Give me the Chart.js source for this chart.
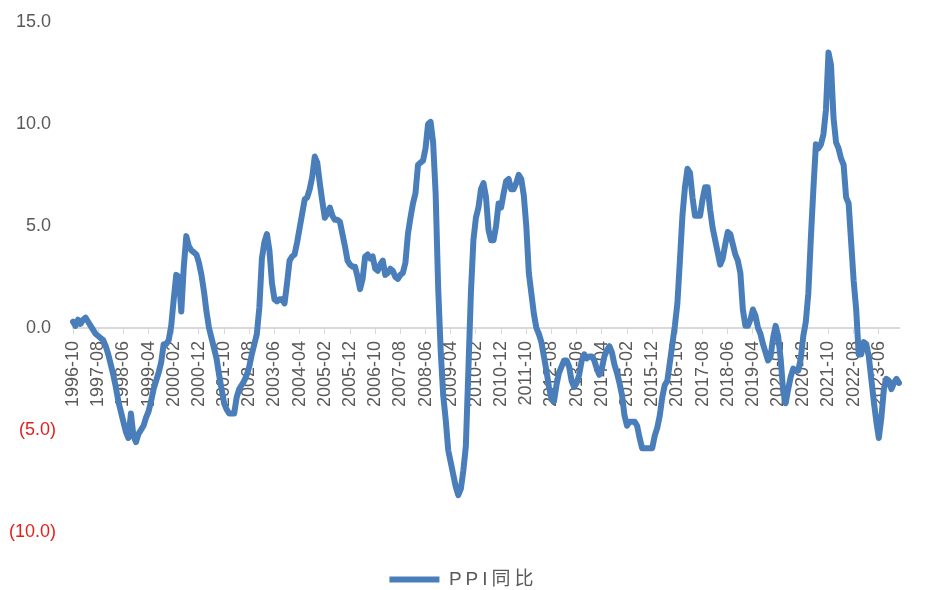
<!DOCTYPE html>
<html lang="zh">
<head>
    <meta charset="UTF-8">
    <title>PPI同比</title>
    <style>
        html, body {
            margin: 0;
            padding: 0;
            background: #fff;
        }
        #chart-container {
            width: 933px;
            height: 590px;
        }
    </style>
</head>
<body>
    <div id="chart-container">
        <canvas id="chart" width="933" height="590"></canvas>
    </div>

    <script src="https://cdn.jsdelivr.net/npm/chart.js"></script>
    <script>
        // monthly series starts 1996-10
        const startYear = 1996;
        const startMonth = 10;
        const seriesName = 'PPI同比';

        // PPI year-on-year, %, one row per calendar year
        const ppiYoY = [
            0.3, 0.1, 0.4,                                                  // 1996 Oct-Dec
            0.2, 0.4, 0.5, 0.3, 0.1, -0.1, -0.3, -0.4, -0.5, -0.6, -0.9, -1.3,   // 1997
            -1.8, -2.3, -2.9, -3.6, -4.1, -4.6, -5.1, -5.4, -4.2, -5.3, -5.6, -5.2, // 1998
            -5.0, -4.8, -4.4, -4.1, -3.6, -3.0, -2.6, -2.2, -1.7, -0.8, -0.8, -0.6, // 1999
            0.1, 1.4, 2.6, 2.5, 0.8, 3.0, 4.5, 4.0, 3.8, 3.7, 3.6, 3.2,         // 2000
            2.6, 1.8, 0.8, 0.0, -0.5, -1.0, -1.5, -2.3, -3.0, -3.7, -4.0, -4.2,  // 2001
            -4.2, -4.2, -3.4, -3.0, -2.8, -2.6, -2.3, -1.9, -1.3, -0.8, -0.3, 1.0, // 2002
            3.4, 4.2, 4.6, 3.8, 2.2, 1.4, 1.3, 1.4, 1.4, 1.2, 2.2, 3.3,         // 2003
            3.5, 3.6, 4.2, 4.9, 5.6, 6.3, 6.4, 6.8, 7.4, 8.4, 8.1, 7.1,         // 2004
            6.2, 5.4, 5.6, 5.9, 5.5, 5.3, 5.3, 5.2, 4.6, 4.0, 3.3, 3.1,         // 2005
            3.0, 3.0, 2.5, 1.9, 2.4, 3.5, 3.6, 3.4, 3.5, 2.9, 2.8, 3.1,         // 2006
            3.3, 2.6, 2.7, 2.9, 2.8, 2.5, 2.4, 2.6, 2.7, 3.2, 4.6, 5.4,         // 2007
            6.1, 6.6, 8.0, 8.1, 8.2, 8.8, 10.0, 10.1, 9.1, 6.6, 2.0, -1.1,      // 2008
            -3.3, -4.5, -6.0, -6.6, -7.2, -7.8, -8.2, -7.9, -7.0, -5.8, -2.1, 1.7, // 2009
            4.3, 5.4, 5.9, 6.8, 7.1, 6.4, 4.8, 4.3, 4.3, 5.0, 6.1, 5.9,         // 2010
            6.6, 7.2, 7.3, 6.8, 6.8, 7.1, 7.5, 7.3, 6.5, 5.0, 2.7, 1.7,         // 2011
            0.7, 0.0, -0.3, -0.7, -1.4, -2.1, -2.9, -3.5, -3.6, -2.8, -2.2, -1.9, // 2012
            -1.6, -1.6, -1.9, -2.6, -2.9, -2.7, -2.3, -1.6, -1.3, -1.5, -1.4, -1.4, // 2013
            -1.6, -2.0, -2.3, -2.0, -1.4, -1.1, -0.9, -1.2, -1.8, -2.2, -2.7, -3.3, // 2014
            -4.3, -4.8, -4.6, -4.6, -4.6, -4.8, -5.4, -5.9, -5.9, -5.9, -5.9, -5.9, // 2015
            -5.3, -4.9, -4.3, -3.4, -2.8, -2.6, -1.7, -0.8, 0.1, 1.2, 3.3, 5.5,  // 2016
            6.9, 7.8, 7.6, 6.4, 5.5, 5.5, 5.5, 6.3, 6.9, 6.9, 5.8, 4.9,         // 2017
            4.3, 3.7, 3.1, 3.4, 4.1, 4.7, 4.6, 4.1, 3.6, 3.3, 2.7, 0.9,         // 2018
            0.1, 0.1, 0.4, 0.9, 0.6, 0.0, -0.3, -0.8, -1.2, -1.6, -1.4, -0.5,   // 2019
            0.1, -0.4, -1.5, -3.1, -3.7, -3.0, -2.4, -2.0, -2.1, -2.1, -1.5, -0.4, // 2020
            0.3, 1.7, 4.4, 6.8, 9.0, 8.8, 9.0, 9.5, 10.7, 13.5, 12.9, 10.3,     // 2021
            9.1, 8.8, 8.3, 8.0, 6.4, 6.1, 4.2, 2.3, 0.9, -1.3, -1.3, -0.7,      // 2022
            -0.8, -1.4, -2.5, -3.6, -4.6, -5.4, -4.4, -3.0, -2.5, -2.6, -3.0, -2.7, // 2023
            -2.5, -2.7                                                      // 2024 Jan-Feb
        ];

        // y axis
        const yTicks = [-10, -5, 0, 5, 10, 15];
        const labelEvery = 10; // one date label every 10 months

        const months = [];
        for (let i = 0; i < ppiYoY.length; i++) {
            const m = startMonth - 1 + i;
            const y = startYear + Math.floor(m / 12);
            const mm = (m % 12) + 1;
            months.push(y + '-' + (mm < 10 ? '0' + mm : mm));
        }

        const fontFamily = "'Liberation Sans', Arial, 'Noto Sans CJK SC', sans-serif";
        const grey = '#595959';
        const red = '#e3211c';

        // legend text in the original is letter-spaced and sits a bit right of the plot centre
        const legendSpacing = {
            id: 'legendSpacing',
            beforeLayout(chart) {
                const lg = chart.legend;
                if (!lg || lg._spaced) return;
                lg._spaced = true;
                ['fit', 'draw'].forEach(function(fn) {
                    const orig = lg[fn].bind(lg);
                    lg[fn] = function() {
                        const c = chart.ctx;
                        const old = c.letterSpacing;
                        const shift = fn === 'draw' ? 14 : 0;
                        c.letterSpacing = '4px';
                        lg.left += shift;
                        lg.right += shift;
                        const r = orig.apply(null, arguments);
                        lg.left -= shift;
                        lg.right -= shift;
                        c.letterSpacing = old || '0px';
                        return r;
                    };
                });
            }
        };

        const ctx = document.getElementById('chart').getContext('2d');
        const chart = new Chart(ctx, {
            type: 'line',
            data: {
                labels: months,
                datasets: [{
                    label: seriesName,
                    data: ppiYoY,
                    borderColor: '#4a7ebb',
                    backgroundColor: '#4a7ebb',
                    borderWidth: 6,
                    pointRadius: 0,
                    pointHoverRadius: 0,
                    tension: 0,
                    borderJoinStyle: 'round',
                    borderCapStyle: 'round',
                    fill: false
                }]
            },
            plugins: [legendSpacing],
            options: {
                responsive: false,
                animation: false,
                layout: {
                    padding: { left: 0, right: 34, top: 22, bottom: -9 }
                },
                plugins: {
                    tooltip: { enabled: false },
                    legend: {
                        position: 'bottom',
                        title: {
                            display: true,
                            text: '',
                            font: { size: 1 },
                            padding: { top: 33, bottom: 0 }
                        },
                        labels: {
                            usePointStyle: true,
                            pointStyle: 'line',
                            pointStyleWidth: 50,
                            padding: 4,
                            color: grey,
                            font: { family: fontFamily, size: 19 }
                        }
                    }
                },
                scales: {
                    x: {
                        position: { y: 0 },
                        offset: false,
                        grid: {
                            drawOnChartArea: false,
                            drawTicks: true,
                            tickLength: 5,
                            color: '#d9d9d9'
                        },
                        border: { display: true, color: '#d9d9d9', width: 2 },
                        ticks: {
                            autoSkip: false,
                            minRotation: 90,
                            maxRotation: 90,
                            padding: 8,
                            color: grey,
                            font: { family: fontFamily, size: 18 },
                            callback: function(value, index) {
                                return index % labelEvery === 0 ? months[index] : null;
                            }
                        },
                        afterFit: function(scale) {
                            scale.height = 0;
                        }
                    },
                    y: {
                        min: yTicks[0],
                        max: yTicks[yTicks.length - 1],
                        grid: { display: false, drawTicks: false },
                        border: { display: false },
                        afterBuildTicks: function(scale) {
                            scale.ticks = yTicks.map(v => ({ value: v }));
                        },
                        ticks: {
                            padding: 17,
                            font: { family: fontFamily, size: 18 },
                            color: function(c) {
                                return c.tick && c.tick.value < 0 ? red : grey;
                            },
                            callback: function(value) {
                                if (value < 0) {
                                    return '(' + Math.abs(value).toFixed(1) + ')';
                                }
                                return value.toFixed(1) + ' ';
                            }
                        },
                        afterFit: function(scale) {
                            // keep the label gap without pushing the plot down
                            scale.width = 73;
                            scale.paddingTop = 11;
                            scale.paddingBottom = 11;
                        }
                    }
                }
            }
        });
    </script>
</body>
</html>
